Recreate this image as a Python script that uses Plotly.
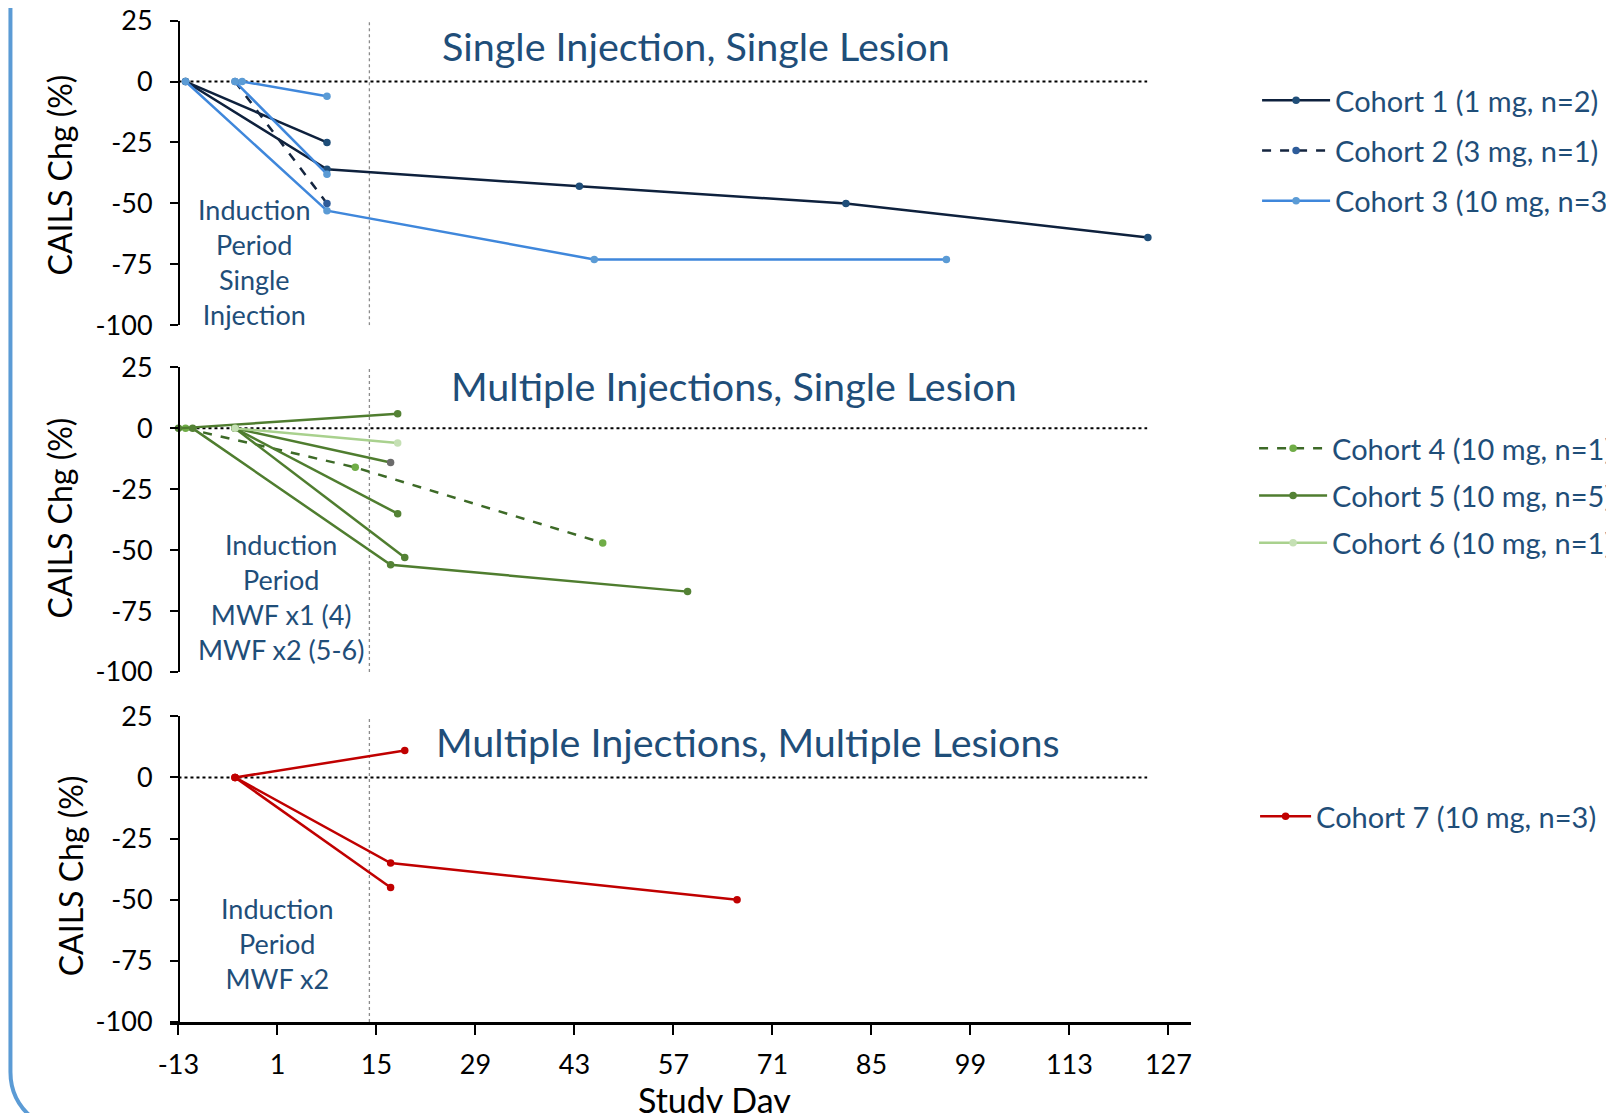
import plotly.graph_objects as go

# ---------------- data ----------------
x_tick_days = [-13, 1, 15, 29, 43, 57, 71, 85, 99, 113, 127]
y_tick_vals = [25, 0, -25, -50, -75, -100]

c1_days = [[-12, 8], [-12, 8, 43.7, 81.4, 124.1]]
c1_vals = [[0, -25], [0, -36, -43, -50, -64]]
c2_days = [[-5, 8]]
c2_vals = [[0, -50]]
c3_days = [[-12, 8, 45.8, 95.6], [-5, 8], [-4, 8]]
c3_vals = [[0, -53, -73, -73], [0, -38], [0, -6]]

c4_days = [[-12, 12, 47]]
c4_vals = [[0, -16, -47]]
c5_days = [[-13, 18], [-5, 17], [-5, 18], [-5, 19], [-11, 17, 59]]
c5_vals = [[0, 6], [0, -14], [0, -35], [0, -53], [0, -56, -67]]
c6_days = [[-5, 18]]
c6_vals = [[0, -6]]

c7_days = [[-5, 19], [-5, 17, 66], [-5, 17]]
c7_vals = [[0, 11], [0, -35, -50], [0, -45]]

cohort_names = [
    "Cohort 1 (1 mg, n=2)", "Cohort 2 (3 mg, n=1)", "Cohort 3 (10 mg, n=3)",
    "Cohort 4 (10 mg, n=1)", "Cohort 5 (10 mg, n=5)", "Cohort 6 (10 mg, n=1)",
    "Cohort 7 (10 mg, n=3)",
]
panel_titles = [
    "Single Injection, Single Lesion",
    "Multiple Injections, Single Lesion",
    "Multiple Injections, Multiple Lesions",
]
induction_notes = [
    "Induction<br>Period<br>Single<br>Injection",
    "Induction<br>Period<br>MWF x1 (4)<br>MWF x2 (5-6)",
    "Induction<br>Period<br>MWF x2",
]
induction_end_day = 14
zero_line_end_day = 124

# ---------------- layout helpers ----------------
# page body adds an 8px offset: targets below are screen pixels
OFF = 8
W, H = 1614, 1113
SCR_LEFT, SCR_RIGHT, SCR_TOP, SCR_BOTTOM = 169.6, 1190.9, 10.0, 1022.1
ML = SCR_LEFT - OFF
MR = W - (SCR_RIGHT - OFF)
MT = SCR_TOP - OFF
MB = H - (SCR_BOTTOM - OFF)
PW = W - ML - MR
PH = H - MT - MB
XR = [-14.2, 130.2]


def px_x(px):
    return (px - OFF - ML) / PW


def px_y(py):
    return (H - MB - (py - OFF)) / PH


def join(days_list, vals_list):
    xs, ys = [], []
    for d, v in zip(days_list, vals_list):
        if xs:
            xs.append(None)
            ys.append(None)
        xs.extend(d)
        ys.extend(v)
    return xs, ys


FONT = "Lato"
TXT = "#1f4e79"

cohorts = [
    # days, vals, name, line color, marker color, dash, panel, legend
    (c1_days, c1_vals, cohort_names[0], "#0e213d", "#1f4e79", "solid", 1, "legend"),
    (c2_days, c2_vals, cohort_names[1], "#14253f", "#2e5c9a", "dash", 1, "legend"),
    (c3_days, c3_vals, cohort_names[2], "#3f87db", "#5b9bd5", "solid", 1, "legend"),
    (c4_days, c4_vals, cohort_names[3], "#3d6a27", "#70ad47", "dash", 2, "legend2"),
    (c5_days, c5_vals, cohort_names[4], "#4f7d2f", "#548235", "solid", 2, "legend2"),
    (c6_days, c6_vals, cohort_names[5], "#a9d18e", "#c5e0b4", "solid", 2, "legend2"),
    (c7_days, c7_vals, cohort_names[6], "#c00000", "#c00000", "solid", 3, "legend3"),
]

fig = go.Figure()
for i, (dd, vv, name, lc, mc, dash, panel, leg) in enumerate(cohorts):
    xs, ys = join(dd, vv)
    mcolors = [mc] * len(xs)
    if name == cohort_names[4]:
        # one end point drawn grey in the source
        count = 0
        for k, x in enumerate(xs):
            if x is None:
                count += 1
            if count == 1 and x == 17:
                mcolors[k] = "#6b6b6b"
    suffix = "" if panel == 1 else str(panel)
    fig.add_trace(go.Scatter(
        x=xs, y=ys, mode="lines+markers", name=name,
        line=dict(color=lc, width=2.5, dash=dash),
        marker=dict(color=mcolors, size=7.5),
        xaxis="x" + suffix, yaxis="y" + suffix,
        legend=leg, legendgroup=name,
    ))

domains = [
    [px_y(325.3), px_y(20.6)],
    [px_y(672.1), px_y(367.5)],
    [max(0.0, px_y(1022.1)), px_y(716.4)],
]
ypos = px_x(178.3)

layout = dict(
    width=W, height=H,
    margin=dict(l=ML, r=MR, t=MT, b=MB, autoexpand=False),
    paper_bgcolor="white", plot_bgcolor="white",
    font=dict(family=FONT, color="black"),
    showlegend=True,
)

for p in range(3):
    s = "" if p == 0 else str(p + 1)
    xa = dict(domain=[0, 1], range=XR, anchor="y" + s, showgrid=False,
              zeroline=False, automargin=False)
    if p < 2:
        xa.update(visible=False)
    else:
        xa.update(
            showline=True, linecolor="black", linewidth=2.5,
            ticks="outside", ticklen=10, tickwidth=1.5, tickcolor="black",
            tickvals=x_tick_days, ticktext=[str(v) for v in x_tick_days],
            tickfont=dict(size=27, family=FONT, color="black"),
            ticklabelstandoff=7, ticklabeloverflow="allow",
        )
    layout["xaxis" + s] = xa
    layout["yaxis" + s] = dict(
        domain=domains[p], range=[-100, 25], anchor="free", position=ypos,
        showgrid=False, zeroline=False, showline=True, linecolor="black",
        linewidth=1.5, ticks="outside", ticklen=8, tickwidth=1.5,
        tickcolor="black", tickvals=y_tick_vals,
        ticktext=[str(v) for v in y_tick_vals],
        tickfont=dict(size=27, family=FONT, color="black"),
        ticklabelstandoff=12, automargin=False, ticklabeloverflow="allow",
    )

legend_common = dict(
    font=dict(size=29, family=FONT, color=TXT), bgcolor="rgba(0,0,0,0)",
    xanchor="left", yanchor="top", itemwidth=68, traceorder="grouped",
)
layout["legend"] = dict(legend_common, x=px_x(1257), y=px_y(75),
                        tracegroupgap=9.5)
layout["legend2"] = dict(legend_common, x=px_x(1254), y=px_y(423),
                         tracegroupgap=6.5)
layout["legend3"] = dict(legend_common, x=px_x(1255), y=px_y(791),
                         itemwidth=51, tracegroupgap=7)

fig.update_layout(**layout)

# reference lines
for p in range(3):
    s = "" if p == 0 else str(p + 1)
    fig.add_shape(type="line", xref="x" + s, yref="y" + s,
                  x0=-13, x1=zero_line_end_day, y0=0, y1=0,
                  line=dict(color="black", width=2, dash="dot"), layer="below")
    fig.add_shape(type="line", xref="x" + s, yref="y" + s,
                  x0=induction_end_day, x1=induction_end_day, y0=-100, y1=25,
                  line=dict(color="#8c8c8c", width=1.3, dash="dot"), layer="below")

# panel titles and induction notes
title_pos = [(60.2, 14.6), (65.5, 17.4), (67.6, 14.9)]
note_pos = [(-2.3, -74), (1.5, -69), (1.0, -68)]
for p in range(3):
    s = "" if p == 0 else str(p + 1)
    fig.add_annotation(text=panel_titles[p], xref="x" + s, yref="y" + s,
                       x=title_pos[p][0], y=title_pos[p][1], showarrow=False,
                       xanchor="center", yanchor="middle",
                       font=dict(size=39.5, family=FONT, color=TXT))
    fig.add_annotation(text=induction_notes[p], xref="x" + s, yref="y" + s,
                       x=note_pos[p][0], y=note_pos[p][1], showarrow=False,
                       xanchor="center", yanchor="middle",
                       font=dict(size=27, family=FONT, color=TXT))

# y axis titles
for py, pxx in [(175, 60), (518, 60), (876, 70)]:
    fig.add_annotation(text="CAILS Chg (%)", xref="paper", yref="paper",
                       x=px_x(pxx), y=px_y(py), textangle=-90, showarrow=False,
                       xanchor="center", yanchor="middle",
                       font=dict(size=32, family=FONT, color="black"))

# x axis title
fig.add_annotation(text="Study Day", xref="x3", yref="paper", x=62.8,
                   y=px_y(1100), showarrow=False,
                   xanchor="center", yanchor="middle",
                   font=dict(size=34, family=FONT, color="black"))

# rounded frame edge at the left
path = "M {:.5f},{:.5f} L {:.5f},{:.5f} Q {:.5f},{:.5f} {:.5f},{:.5f}".format(
    px_x(10), px_y(-5), px_x(10), px_y(1072), px_x(10), px_y(1100),
    px_x(32), px_y(1118))
fig.add_shape(type="path", xref="paper", yref="paper", path=path,
              line=dict(color="#5b9bd5", width=4))

fig.write_html("out.html")
